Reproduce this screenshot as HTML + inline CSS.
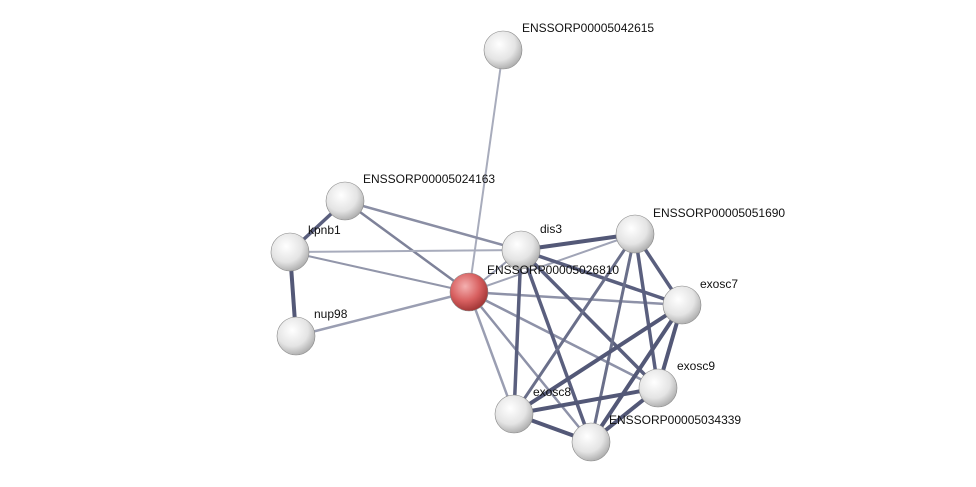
<!DOCTYPE html>
<html><head><meta charset="utf-8"><style>
html,body{margin:0;padding:0;background:#fff;}
svg{display:block;}
text{font-family:"Liberation Sans",sans-serif;font-size:12px;fill:#111;}
</style></head><body>
<svg width="976" height="487" viewBox="0 0 976 487" xmlns="http://www.w3.org/2000/svg">
<defs>
<radialGradient id="g" cx="0.4" cy="0.35" r="0.7">
<stop offset="0" stop-color="#ffffff"/><stop offset="0.6" stop-color="#e4e4e4"/><stop offset="1" stop-color="#a8a8a8"/>
</radialGradient>
<radialGradient id="r" cx="0.4" cy="0.35" r="0.7">
<stop offset="0" stop-color="#f4b0b0"/><stop offset="0.55" stop-color="#d86060"/><stop offset="1" stop-color="#9a3030"/>
</radialGradient>
</defs>
<g stroke-linecap="round">
<line x1="503" y1="50" x2="469" y2="292" stroke="#a8acbc" stroke-width="2"/>
<line x1="345" y1="201" x2="290" y2="252" stroke="#5a5f7e" stroke-width="3.5"/>
<line x1="345" y1="201" x2="469" y2="292" stroke="#7e8299" stroke-width="2.5"/>
<line x1="345" y1="201" x2="521" y2="250" stroke="#8a8ea4" stroke-width="2.5"/>
<line x1="290" y1="252" x2="296" y2="336" stroke="#535877" stroke-width="4"/>
<line x1="290" y1="252" x2="469" y2="292" stroke="#9296aa" stroke-width="2"/>
<line x1="290" y1="252" x2="521" y2="250" stroke="#a8acbc" stroke-width="2"/>
<line x1="296" y1="336" x2="469" y2="292" stroke="#9a9eb2" stroke-width="2.5"/>
<line x1="469" y1="292" x2="521" y2="250" stroke="#9a9eb2" stroke-width="2"/>
<line x1="469" y1="292" x2="635" y2="234" stroke="#a0a4b6" stroke-width="2"/>
<line x1="469" y1="292" x2="682" y2="305" stroke="#8e92a8" stroke-width="2.5"/>
<line x1="469" y1="292" x2="658" y2="388" stroke="#8e92a8" stroke-width="2.5"/>
<line x1="469" y1="292" x2="514" y2="414" stroke="#9a9eb2" stroke-width="2.5"/>
<line x1="469" y1="292" x2="591" y2="442" stroke="#8e92a8" stroke-width="2.5"/>
<line x1="521" y1="250" x2="635" y2="234" stroke="#535877" stroke-width="4"/>
<line x1="521" y1="250" x2="682" y2="305" stroke="#5a5f7e" stroke-width="3.5"/>
<line x1="521" y1="250" x2="658" y2="388" stroke="#5a5f7e" stroke-width="3.5"/>
<line x1="521" y1="250" x2="514" y2="414" stroke="#5a5f7e" stroke-width="3.5"/>
<line x1="521" y1="250" x2="591" y2="442" stroke="#5a5f7e" stroke-width="3.5"/>
<line x1="635" y1="234" x2="682" y2="305" stroke="#5a5f7e" stroke-width="3.5"/>
<line x1="635" y1="234" x2="658" y2="388" stroke="#5a5f7e" stroke-width="3.5"/>
<line x1="635" y1="234" x2="514" y2="414" stroke="#6a6f8a" stroke-width="3"/>
<line x1="635" y1="234" x2="591" y2="442" stroke="#6a6f8a" stroke-width="3"/>
<line x1="682" y1="305" x2="658" y2="388" stroke="#535877" stroke-width="4"/>
<line x1="682" y1="305" x2="514" y2="414" stroke="#535877" stroke-width="4"/>
<line x1="682" y1="305" x2="591" y2="442" stroke="#535877" stroke-width="4"/>
<line x1="658" y1="388" x2="514" y2="414" stroke="#535877" stroke-width="4"/>
<line x1="658" y1="388" x2="591" y2="442" stroke="#535877" stroke-width="4"/>
<line x1="514" y1="414" x2="591" y2="442" stroke="#535877" stroke-width="4"/>
</g>
<g stroke="#888" stroke-width="0.6">
<circle cx="503" cy="50" r="19" fill="url(#g)"/>
<circle cx="345" cy="201" r="19" fill="url(#g)"/>
<circle cx="290" cy="252" r="19" fill="url(#g)"/>
<circle cx="296" cy="336" r="19" fill="url(#g)"/>
<circle cx="521" cy="250" r="19" fill="url(#g)"/>
<circle cx="635" cy="234" r="19" fill="url(#g)"/>
<circle cx="682" cy="305" r="19" fill="url(#g)"/>
<circle cx="658" cy="388" r="19" fill="url(#g)"/>
<circle cx="514" cy="414" r="19" fill="url(#g)"/>
<circle cx="591" cy="442" r="19" fill="url(#g)"/>
<circle cx="469" cy="292" r="19" fill="url(#r)"/>
</g>
<text x="522" y="32">ENSSORP00005042615</text>
<text x="363" y="183">ENSSORP00005024163</text>
<text x="308" y="234">kpnb1</text>
<text x="314" y="318">nup98</text>
<text x="540" y="233">dis3</text>
<text x="487" y="274">ENSSORP00005026810</text>
<text x="653" y="217">ENSSORP00005051690</text>
<text x="700" y="288">exosc7</text>
<text x="677" y="370">exosc9</text>
<text x="533" y="396">exosc8</text>
<text x="609" y="424">ENSSORP00005034339</text>
</svg>
</body></html>
